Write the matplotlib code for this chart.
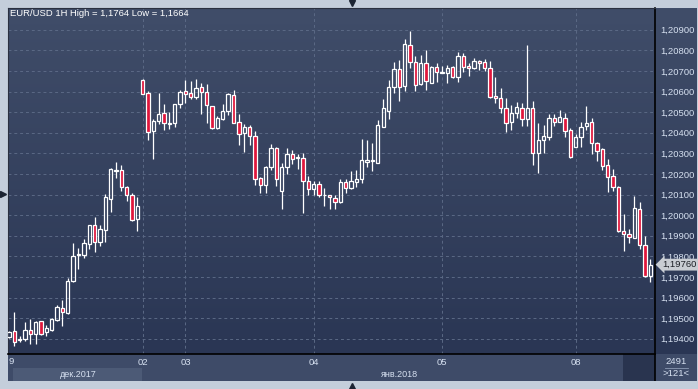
import numpy as np
import matplotlib.pyplot as plt
from matplotlib.colors import LinearSegmentedColormap
from matplotlib.lines import Line2D
from matplotlib.patches import Rectangle

# EUR/USD 1H свечи, 121 бар
opens = [1.19407, 1.19438, 1.19393, 1.19398, 1.19441, 1.19425, 1.19485, 1.19432, 1.19441, 1.19491,
         1.19548, 1.19524, 1.19679, 1.19805, 1.19805, 1.19859, 1.19951, 1.19868, 1.19927, 1.20080,
         1.20216, 1.20218, 1.20135, 1.20097, 1.19980, 1.20656, 1.20592, 1.20407, 1.20459, 1.20496,
         1.20444, 1.20446, 1.20538, 1.20601, 1.20592, 1.20575, 1.20621, 1.20597, 1.20529, 1.20425,
         1.20466, 1.20507, 1.20584, 1.20451, 1.20398, 1.20427, 1.20383, 1.20179, 1.20148, 1.20233,
         1.20325, 1.20116, 1.20235, 1.20299, 1.20276, 1.20276, 1.20165, 1.20126, 1.20151, 1.20098,
         1.20098, 1.20082, 1.20063, 1.20160, 1.20131, 1.20160, 1.20174, 1.20257, 1.20263, 1.20255,
         1.20430, 1.20507, 1.20621, 1.20708, 1.20627, 1.20826, 1.20745, 1.20635, 1.20737, 1.20643,
         1.20718, 1.20692, 1.20689, 1.20718, 1.20669, 1.20774, 1.20724, 1.20716, 1.20750, 1.20742,
         1.20716, 1.20579, 1.20567, 1.20519, 1.20451, 1.20495, 1.20519, 1.20466, 1.20519, 1.20300,
         1.20364, 1.20381, 1.20470, 1.20454, 1.20470, 1.20414, 1.20330, 1.20378, 1.20434, 1.20451,
         1.20349, 1.20321, 1.20244, 1.20190, 1.20138, 1.19923, 1.19909, 1.19888, 1.20029, 1.19855,
         1.19706]
highs = [1.19438, 1.19530, 1.19414, 1.19482, 1.19495, 1.19486, 1.19486, 1.19467, 1.19500, 1.19563,
         1.19588, 1.19695, 1.19865, 1.19839, 1.19883, 1.19953, 1.19990, 1.19951, 1.20102, 1.20231,
         1.20258, 1.20244, 1.20142, 1.20106, 1.20088, 1.20659, 1.20601, 1.20467, 1.20593, 1.20541,
         1.20501, 1.20541, 1.20608, 1.20656, 1.20650, 1.20661, 1.20640, 1.20637, 1.20532, 1.20483,
         1.20538, 1.20593, 1.20609, 1.20491, 1.20441, 1.20438, 1.20410, 1.20184, 1.20239, 1.20346,
         1.20330, 1.20252, 1.20325, 1.20315, 1.20296, 1.20300, 1.20189, 1.20165, 1.20166, 1.20134,
         1.20099, 1.20098, 1.20174, 1.20174, 1.20215, 1.20219, 1.20370, 1.20365, 1.20349, 1.20462,
         1.20564, 1.20656, 1.20745, 1.20753, 1.20855, 1.20894, 1.20773, 1.20778, 1.20802, 1.20724,
         1.20740, 1.20726, 1.20729, 1.20726, 1.20791, 1.20786, 1.20740, 1.20762, 1.20753, 1.20758,
         1.20749, 1.20669, 1.20616, 1.20567, 1.20535, 1.20548, 1.20543, 1.20826, 1.20554, 1.20446,
         1.20438, 1.20491, 1.20491, 1.20511, 1.20495, 1.20422, 1.20394, 1.20451, 1.20530, 1.20470,
         1.20357, 1.20325, 1.20273, 1.20224, 1.20143, 1.20006, 1.19932, 1.20095, 1.20066, 1.19899,
         1.19787]
lows = [1.19404, 1.19367, 1.19384, 1.19389, 1.19373, 1.19376, 1.19418, 1.19415, 1.19438, 1.19488,
        1.19464, 1.19522, 1.19677, 1.19737, 1.19794, 1.19837, 1.19823, 1.19851, 1.19871, 1.20017,
        1.20182, 1.20118, 1.20070, 1.19972, 1.19925, 1.20586, 1.20365, 1.20274, 1.20443, 1.20415,
        1.20420, 1.20430, 1.20522, 1.20546, 1.20564, 1.20566, 1.20493, 1.20446, 1.20420, 1.20420,
        1.20462, 1.20488, 1.20446, 1.20342, 1.20307, 1.20342, 1.20148, 1.20109, 1.20109, 1.20218,
        1.20143, 1.20032, 1.20199, 1.20247, 1.20223, 1.20009, 1.20100, 1.20100, 1.20088, 1.20046,
        1.20032, 1.20030, 1.20060, 1.20109, 1.20129, 1.20138, 1.20155, 1.20235, 1.20216, 1.20252,
        1.20428, 1.20466, 1.20595, 1.20556, 1.20603, 1.20716, 1.20604, 1.20632, 1.20608, 1.20640,
        1.20648, 1.20688, 1.20640, 1.20668, 1.20648, 1.20697, 1.20677, 1.20710, 1.20705, 1.20700,
        1.20571, 1.20546, 1.20498, 1.20405, 1.20414, 1.20470, 1.20433, 1.20433, 1.20244, 1.20203,
        1.20300, 1.20365, 1.20433, 1.20452, 1.20381, 1.20280, 1.20329, 1.20333, 1.20414, 1.20297,
        1.20265, 1.20219, 1.20114, 1.20119, 1.19918, 1.19828, 1.19864, 1.19887, 1.19836, 1.19702,
        1.19677]
closes = [1.19435, 1.19386, 1.19398, 1.19443, 1.19422, 1.19482, 1.19425, 1.19451, 1.19495, 1.19556,
          1.19529, 1.19681, 1.19800, 1.19810, 1.19864, 1.19951, 1.19868, 1.19932, 1.20087, 1.20223,
          1.20221, 1.20135, 1.20097, 1.19978, 1.20043, 1.20587, 1.20402, 1.20457, 1.20491, 1.20446,
          1.20448, 1.20540, 1.20598, 1.20587, 1.20572, 1.20618, 1.20597, 1.20534, 1.20425, 1.20473,
          1.20507, 1.20588, 1.20449, 1.20393, 1.20427, 1.20383, 1.20174, 1.20148, 1.20233, 1.20325,
          1.20174, 1.20235, 1.20299, 1.20271, 1.20281, 1.20165, 1.20126, 1.20151, 1.20097, 1.20100,
          1.20087, 1.20066, 1.20163, 1.20131, 1.20165, 1.20174, 1.20268, 1.20268, 1.20266, 1.20438,
          1.20519, 1.20621, 1.20708, 1.20621, 1.20831, 1.20742, 1.20631, 1.20737, 1.20651, 1.20718,
          1.20694, 1.20695, 1.20713, 1.20669, 1.20773, 1.20721, 1.20713, 1.20750, 1.20740, 1.20716,
          1.20572, 1.20567, 1.20522, 1.20446, 1.20495, 1.20524, 1.20466, 1.20519, 1.20300, 1.20364,
          1.20383, 1.20470, 1.20454, 1.20475, 1.20410, 1.20281, 1.20378, 1.20430, 1.20446, 1.20349,
          1.20313, 1.20240, 1.20187, 1.20135, 1.19923, 1.19909, 1.19893, 1.20033, 1.19855, 1.19706,
          1.19760]

day_starts = [25, 33, 57, 81, 106]
day_labels = ['02', '03', '04', '05', '08']
price_ticks = [1.194, 1.195, 1.196, 1.197, 1.198, 1.199, 1.200, 1.201,
               1.202, 1.203, 1.204, 1.205, 1.206, 1.207, 1.208, 1.209]
last_price = 1.19760
title = 'EUR/USD 1H High = 1,1764 Low = 1,1664'

W, H = 698, 389
FONT = 'Liberation Sans'
TXT = '#d6e0f0'

fig = plt.figure(figsize=(W / 100, H / 100), dpi=100)
fig.patch.set_facecolor('#c4cedb')


def rect(x0, y0, x1, y1):
    # пиксели (от левого верхнего угла) -> доли фигуры
    return [x0 / W, 1 - y1 / H, (x1 - x0) / W, (y1 - y0) / H]


# фон: градиент под графиком и правой шкалой
bg = fig.add_axes(rect(8, 8, 697, 354), zorder=0)
cmap = LinearSegmentedColormap.from_list('bg', ['#404d69', '#2a3654'])
bg.imshow(np.linspace(0, 1, 256).reshape(-1, 1), cmap=cmap, aspect='auto',
          extent=[0, 1, 0, 1])
bg.set_axis_off()

# нижняя полоса с датами
strip = fig.add_axes(rect(8, 354, 697, 381), zorder=0)
strip.set_xlim(8, 697)
strip.set_ylim(381, 354)
strip.set_facecolor('#3e4b68')
for s in strip.spines.values():
    s.set_visible(False)
strip.set_xticks([])
strip.set_yticks([])
strip.add_patch(Rectangle((13, 368), 129, 13, color='#4c5a76', lw=0))
strip.add_patch(Rectangle((623, 354), 32, 27, color='#29344f', lw=0))
strip.text(78, 374.5, 'дек.2017', ha='center', va='center', fontsize=6.5,
           color=TXT, family=FONT)
strip.text(399, 374.5, 'янв.2018', ha='center', va='center', fontsize=6.5,
           color=TXT, family=FONT)
strip.text(11, 362, '9', ha='center', va='center', fontsize=6.8, color=TXT, family=FONT)
strip.text(676, 361, '2491', ha='center', va='center', fontsize=6.8, color=TXT, family=FONT)
strip.text(676, 374, '>121<', ha='center', va='center', fontsize=6.8, color=TXT, family=FONT)
strip.plot([665, 688], [368, 368], color='#8c9ab4', lw=0.6)
strip.plot([655, 655], [354, 381], color='black', lw=1.2)

# основной график
ax = fig.add_axes(rect(8, 8, 655, 354), zorder=2)
ax.set_facecolor('none')
x = np.arange(len(opens))
o = np.array(opens)
c = np.array(closes)
top = np.maximum(o, c)
bot = np.minimum(o, c)
ax.vlines(x, top, highs, color='white', lw=0.9, zorder=3)
ax.vlines(x, lows, bot, color='white', lw=0.9, zorder=3)
fills = ['#e0163c' if cc < oo else 'none' for oo, cc in zip(opens, closes)]
ax.bar(x, c - o, bottom=o, width=0.62, color=fills, edgecolor='white',
       linewidth=0.9, zorder=4)

ax.set_xlim(-0.19, 120.86)
ax.set_ylim(1.193262, 1.210058)
ax.set_xticks(day_starts)
ax.set_xticklabels(day_labels)
ax.set_yticks(price_ticks)
ax.set_yticklabels([f'{v:.5f}'.replace('.', ',') for v in price_ticks])
ax.yaxis.tick_right()
ax.tick_params(axis='both', length=0, colors=TXT, labelsize=6.8)
ax.tick_params(axis='y', pad=4)
ax.tick_params(axis='x', pad=3)
for lab in ax.get_xticklabels() + ax.get_yticklabels():
    lab.set_family(FONT)
ax.grid(True, color='#5b6985', lw=0.7, ls=(0, (3, 3)))
ax.set_axisbelow(True)
for side in ['left', 'top']:
    ax.spines[side].set_color('#2a3040')
    ax.spines[side].set_linewidth(0.8)
for side in ['right', 'bottom']:
    ax.spines[side].set_color('black')
    ax.spines[side].set_linewidth(1.2)

# метка текущей цены (закрывает соседнюю подпись шкалы, как в терминале)
ax.annotate(f'{last_price:.5f}'.replace('.', ','), xy=(1, last_price),
            xycoords=('axes fraction', 'data'), xytext=(5, 0),
            textcoords='offset points', va='center', ha='left',
            fontsize=6.8, color='#1c1f26', family=FONT, zorder=6,
            bbox=dict(boxstyle='larrow,pad=0.15', fc='#c9cdd3', ec='none'),
            annotation_clip=False)

fig.text(10 / W, 1 - 13 / H, title, ha='left', va='center', fontsize=6.8,
         color='white', family=FONT)

# стрелки по краям окна
for mx, my, mk in [(352, 3, 'v'), (3, 194, '>'), (352, 386, '^')]:
    fig.add_artist(Line2D([mx / W], [1 - my / H], marker=mk, color='#1c2433',
                          markersize=5, transform=fig.transFigure))

plt.savefig('out.png', dpi=100, facecolor=fig.get_facecolor())
